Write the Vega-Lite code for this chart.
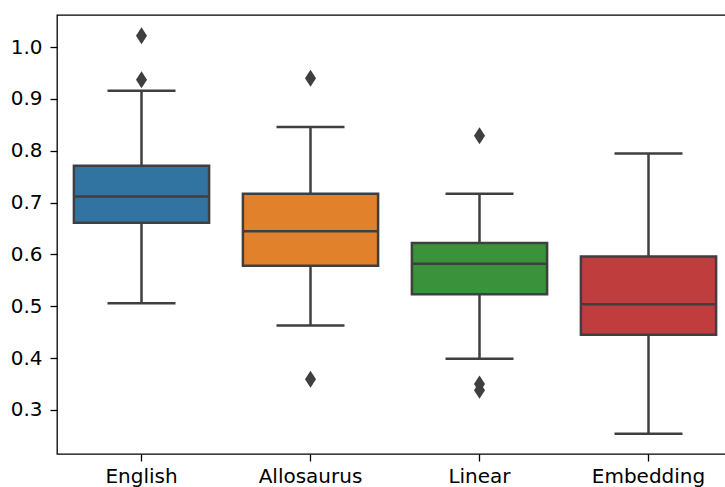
{
  "$schema": "https://vega.github.io/schema/vega-lite/v6.json",
  "autosize": {"type": "none"},
  "width": 676,
  "height": 439,
  "padding": {"left": 57, "top": 15, "right": 0, "bottom": 33},
  "background": "white",
  "config": {
    "view": {"stroke": "#000000", "strokeWidth": 1.3},
    "axis": {
      "grid": false,
      "domain": false,
      "tickColor": "#000000",
      "tickWidth": 1.3,
      "tickSize": 7,
      "labelFont": "DejaVu Sans",
      "labelFontSize": 20,
      "labelColor": "#000000",
      "title": null
    }
  },
  "datasets": {
    "stats": [
      {"group": "English", "lower": 0.506, "q1": 0.661, "median": 0.712, "q3": 0.771, "upper": 0.916},
      {"group": "Allosaurus", "lower": 0.463, "q1": 0.578, "median": 0.645, "q3": 0.717, "upper": 0.846},
      {"group": "Linear", "lower": 0.399, "q1": 0.523, "median": 0.582, "q3": 0.622, "upper": 0.717},
      {"group": "Embedding", "lower": 0.254, "q1": 0.445, "median": 0.504, "q3": 0.596, "upper": 0.795}
    ],
    "outliers": [
      {"group": "English", "value": 1.022},
      {"group": "English", "value": 0.937},
      {"group": "Allosaurus", "value": 0.940},
      {"group": "Allosaurus", "value": 0.359},
      {"group": "Linear", "value": 0.829},
      {"group": "Linear", "value": 0.350},
      {"group": "Linear", "value": 0.338}
    ]
  },
  "layer": [
    {
      "data": {"name": "stats"},
      "mark": {"type": "rule", "color": "#3f3f3f", "strokeWidth": 2.5},
      "encoding": {
        "x": {"field": "group", "type": "nominal"},
        "y": {"field": "lower", "type": "quantitative"},
        "y2": {"field": "q1"}
      }
    },
    {
      "data": {"name": "stats"},
      "mark": {"type": "rule", "color": "#3f3f3f", "strokeWidth": 2.5},
      "encoding": {
        "x": {"field": "group", "type": "nominal"},
        "y": {"field": "q3", "type": "quantitative"},
        "y2": {"field": "upper"}
      }
    },
    {
      "data": {"name": "stats"},
      "mark": {"type": "bar", "width": {"band": 0.8}, "stroke": "#3f3f3f", "strokeWidth": 2.5},
      "encoding": {
        "x": {"field": "group", "type": "nominal"},
        "y": {"field": "q1", "type": "quantitative"},
        "y2": {"field": "q3"},
        "color": {
          "field": "group",
          "type": "nominal",
          "scale": {"domain": ["English", "Allosaurus", "Linear", "Embedding"], "range": ["#3274a1", "#e1812c", "#3a923a", "#c03d3e"]},
          "legend": null
        }
      }
    },
    {
      "data": {"name": "stats"},
      "mark": {"type": "tick", "color": "#3f3f3f", "size": 135, "thickness": 2.5, "opacity": 1},
      "encoding": {
        "x": {"field": "group", "type": "nominal"},
        "y": {"field": "median", "type": "quantitative"}
      }
    },
    {
      "data": {"name": "stats"},
      "mark": {"type": "tick", "color": "#3f3f3f", "size": 68, "thickness": 2.5, "opacity": 1},
      "encoding": {
        "x": {"field": "group", "type": "nominal"},
        "y": {"field": "upper", "type": "quantitative"}
      }
    },
    {
      "data": {"name": "stats"},
      "mark": {"type": "tick", "color": "#3f3f3f", "size": 68, "thickness": 2.5, "opacity": 1},
      "encoding": {
        "x": {"field": "group", "type": "nominal"},
        "y": {"field": "lower", "type": "quantitative"}
      }
    },
    {
      "data": {"name": "outliers"},
      "mark": {"type": "point", "filled": true, "color": "#3f3f3f", "opacity": 1, "size": 289, "shape": "M0,-1L0.65,0L0,1L-0.65,0Z"},
      "encoding": {
        "x": {"field": "group", "type": "nominal"},
        "y": {"field": "value", "type": "quantitative"}
      }
    }
  ],
  "encoding": {
    "x": {
      "field": "group",
      "type": "nominal",
      "sort": ["English", "Allosaurus", "Linear", "Embedding"],
      "scale": {"domain": ["English", "Allosaurus", "Linear", "Embedding"], "paddingInner": 0, "paddingOuter": 0},
      "axis": {"labelAngle": 0, "labelPadding": 5}
    },
    "y": {
      "type": "quantitative",
      "scale": {"domain": [0.215, 1.062], "zero": false, "nice": false},
      "axis": {"values": [0.3, 0.4, 0.5, 0.6, 0.7, 0.8, 0.9, 1.0], "format": ".1f", "labelPadding": 8}
    }
  }
}
